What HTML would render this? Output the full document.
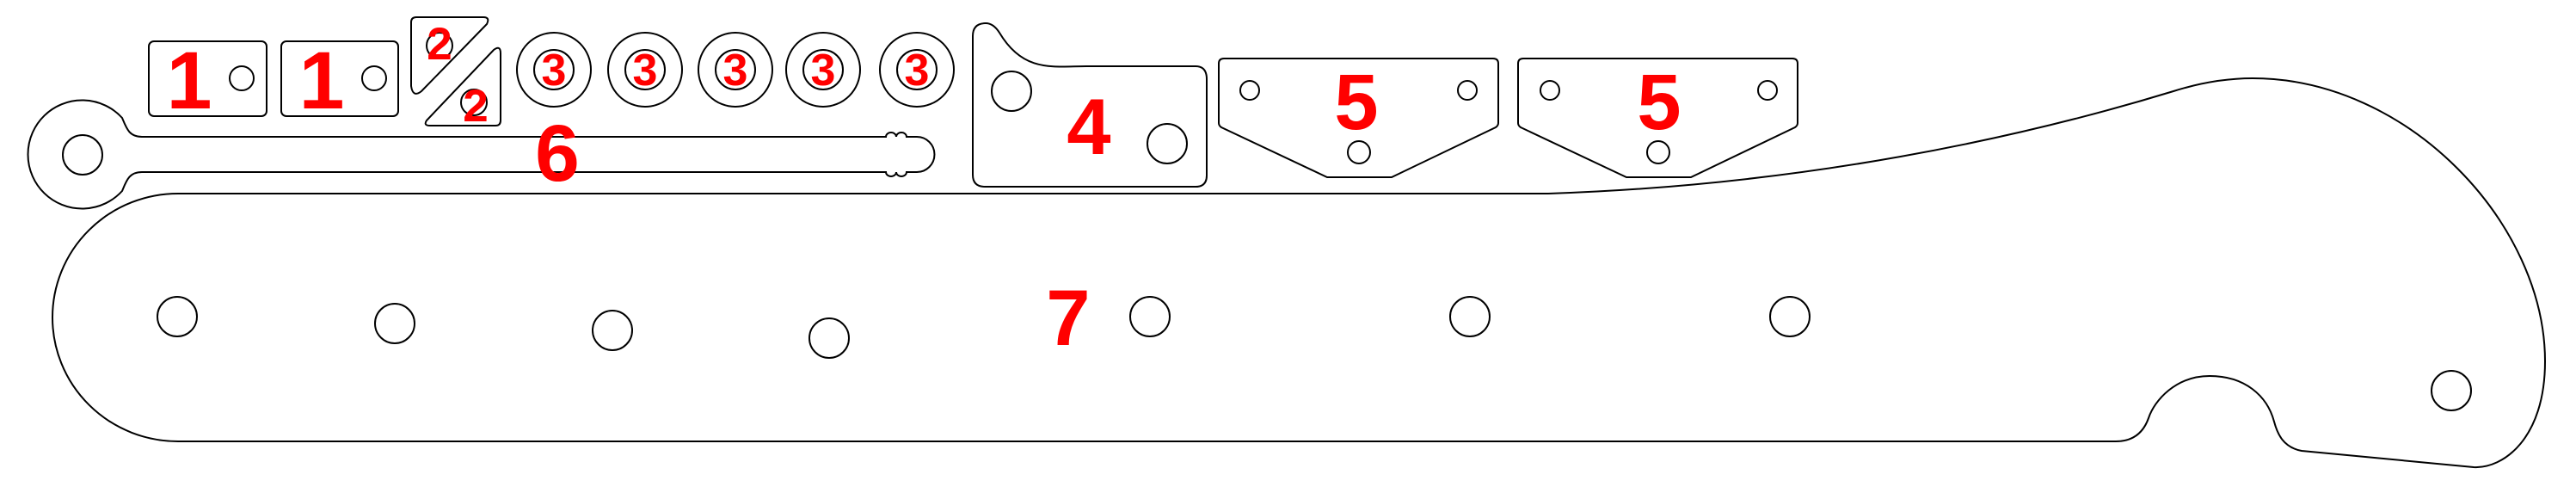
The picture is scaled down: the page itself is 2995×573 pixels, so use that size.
<!DOCTYPE html>
<html><head><meta charset="utf-8"><style>
html,body{margin:0;padding:0;background:#fff}
svg{display:block}
.p{fill:none;stroke:#000;stroke-width:2}
.l{fill:#ff0000;font-family:"Liberation Sans",sans-serif;font-weight:bold;text-anchor:middle}
</style></head><body>
<svg width="2995" height="573" viewBox="0 0 2995 573">
<g>
<rect class="p" x="173" y="48" width="137" height="87" rx="6"/>
<circle class="p" cx="281" cy="91" r="14"/>
<text class="l" x="220" y="126" font-size="95">1</text>
</g>
<g>
<rect class="p" x="327" y="48" width="136" height="87" rx="6"/>
<circle class="p" cx="435" cy="91" r="14"/>
<text class="l" x="374" y="126" font-size="95">1</text>
</g>
<g>
<path class="p" d="M484 20 L562 20 Q570 20 566 28 L490 106 Q480 114 478 100 L478 26 Q478 20 484 20 Z"/>
<circle class="p" cx="511" cy="53" r="15"/>
<text class="l" x="511" y="69" font-size="53">2</text>
<path class="p" d="M582 62 L582 140 Q582 146 576 146 L500 146 Q492 146 496 140 L574 58 Q582 52 582 62 Z"/>
<circle class="p" cx="551" cy="119" r="15"/>
<text class="l" x="553" y="141" font-size="53">2</text>
</g>
<g>
<circle class="p" cx="644" cy="81" r="43"/><circle class="p" cx="644" cy="81" r="23"/>
<text class="l" x="644" y="99" font-size="52">3</text>
<circle class="p" cx="750" cy="81" r="43"/><circle class="p" cx="750" cy="81" r="23"/>
<text class="l" x="750" y="99" font-size="52">3</text>
<circle class="p" cx="855" cy="81" r="43"/><circle class="p" cx="855" cy="81" r="23"/>
<text class="l" x="855" y="99" font-size="52">3</text>
<circle class="p" cx="957" cy="81" r="43"/><circle class="p" cx="957" cy="81" r="23"/>
<text class="l" x="957" y="99" font-size="52">3</text>
<circle class="p" cx="1066" cy="81" r="43"/><circle class="p" cx="1066" cy="81" r="23"/>
<text class="l" x="1066" y="99" font-size="52">3</text>
</g>
<g>
<path class="p" d="M1131 42 Q1131 27 1146 27 Q1155 27 1162 38 C1190 85 1225 77 1263 77 L1390 77 Q1403 77 1403 92 L1403 204 Q1403 217 1390 217 L1145 217 Q1131 217 1131 203 Z"/>
<circle class="p" cx="1176" cy="106" r="23"/>
<circle class="p" cx="1357" cy="167" r="23"/>
<text class="l" x="1266" y="179" font-size="92">4</text>
</g>
<g>
<path class="p" d="M1423 68 L1736 68 Q1742 68 1742 74 L1742 143 Q1742 146 1739 148 L1618 206 L1543 206 L1420 148 Q1417 146 1417 143 L1417 74 Q1417 68 1423 68 Z"/>
<circle class="p" cx="1453" cy="105" r="11"/><circle class="p" cx="1706" cy="105" r="11"/><circle class="p" cx="1580" cy="177" r="13"/>
<text class="l" x="1577" y="150" font-size="92">5</text>
</g>
<g>
<path class="p" d="M1771 68 L2084 68 Q2090 68 2090 74 L2090 143 Q2090 146 2087 148 L1966 206 L1891 206 L1768 148 Q1765 146 1765 143 L1765 74 Q1765 68 1771 68 Z"/>
<circle class="p" cx="1802" cy="105" r="11"/><circle class="p" cx="2055" cy="105" r="11"/><circle class="p" cx="1928" cy="177" r="13"/>
<text class="l" x="1929" y="150" font-size="92">5</text>
</g>
<g>
<path class="p" d="M165 159 L1030 159 a6 5 0 0 1 12 0 a6 5 0 0 1 12 0 L1066 159 A20.5 20.5 0 0 1 1066 200 L1054 200 a6 5 0 0 1 -12 0 a6 5 0 0 1 -12 0 L165 200 C150 200 147 210 142 222 A63 63 0 1 1 142 137 C147 149 150 159 165 159 Z"/>
<circle class="p" cx="96" cy="180" r="23"/>
<text class="l" x="648" y="210" font-size="93">6</text>
</g>
<g>
<path class="p" d="M207 225 L1800 225 C2100 215 2350 160 2527 106 C2565 94 2595 91 2619 91 C2800 91 2959 260 2959 420 C2959 510 2910 545 2876 543 L2676 524 C2655 520 2648 505 2644 490 C2636 460 2610 437 2569 437 C2530 437 2505 465 2498 486 C2493 500 2483 513 2460 513 L207 513 A146 144 0 0 1 207 225 Z"/>
<circle class="p" cx="206" cy="368" r="23"/>
<circle class="p" cx="459" cy="376" r="23"/>
<circle class="p" cx="712" cy="384" r="23"/>
<circle class="p" cx="964" cy="393" r="23"/>
<circle class="p" cx="1337" cy="368" r="23"/>
<circle class="p" cx="1709" cy="368" r="23"/>
<circle class="p" cx="2081" cy="368" r="23"/>
<circle class="p" cx="2850" cy="454" r="23"/>
<text class="l" x="1242" y="401" font-size="92">7</text>
</g>
</svg>
</body></html>
